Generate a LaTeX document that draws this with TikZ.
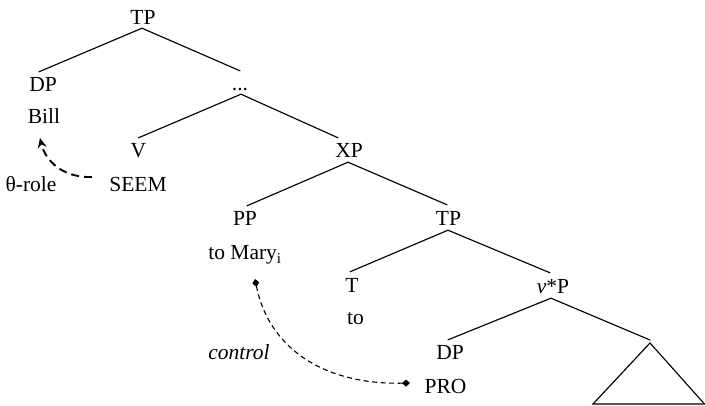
\documentclass[tikz,border=0pt]{standalone}
\usepackage{fontspec}
\setmainfont{Liberation Serif}
\usetikzlibrary{arrows.meta}
\tikzset{
  lbl/.style={anchor=base,inner sep=0pt,text height=14pt,text depth=0pt,font=\fontsize{21.5}{25}\selectfont},
  edge/.style={line width=1.15pt,line cap=round},
  thetaarrow/.style={line width=1.9pt,dash pattern=on 8pt off 5pt,-{Stealth[length=10pt,width=9pt,inset=3.5pt]}},
  ctrlarrow/.style={line width=1.1pt,dash pattern=on 5pt off 3.5pt,{Turned Square[length=8pt,width=7pt]}-{Turned Square[length=8pt,width=7pt]}}
}
\begin{document}
\begin{tikzpicture}[x=1pt,y=-1pt]
\useasboundingbox (0,0) rectangle (705,406);
% nodes
\node[lbl] (tp1) at (143,25) {TP};
\node[lbl] (dp1) at (43,92) {DP};
\node[lbl] (bill) at (44,124) {Bill};
\node[lbl] (dots) at (240,91) {...};
\node[lbl] (v) at (138.5,158) {V};
\node[lbl] (seem) at (138,192) {SEEM};
\node[lbl] (theta) at (31,192) {θ-role};
\node[lbl] (xp) at (349,158) {XP};
\node[lbl] (pp) at (245,226) {PP};
\node[lbl] (mary) at (245,260) {to Mary\textsubscript{i}};
\node[lbl] (tp2) at (448.5,226) {TP};
\node[lbl] (t) at (352,293) {T};
\node[lbl] (to) at (355.5,325) {to};
\node[lbl] (vp) at (553,294) {\textit{v}*P};
\node[lbl] (dp2) at (450,360) {DP};
\node[lbl] (pro) at (445.5,393) {PRO};
\node[lbl] (ctrl) at (239,360) {\textit{control}};
\coordinate (tri) at (650,343);
\coordinate (tril) at (593,404);
\coordinate (trir) at (704.5,404);
% tree edges
\draw[edge] ([xshift=-1pt,yshift=-3pt]tp1.south) -- ([xshift=-4pt,yshift=6pt]dp1.north);
\draw[edge] ([xshift=-1pt,yshift=-3pt]tp1.south) -- ([yshift=6pt]dots.north);
\draw[edge] ([xshift=1pt,yshift=-3pt]dots.south) -- ([yshift=6pt]v.north);
\draw[edge] ([xshift=1pt,yshift=-3pt]dots.south) -- ([xshift=-11pt,yshift=6pt]xp.north);
\draw[edge] ([xshift=-1pt,yshift=-4pt]xp.south) -- ([xshift=2pt,yshift=6pt]pp.north);
\draw[edge] ([xshift=-1pt,yshift=-4pt]xp.south) -- ([xshift=-1.5pt,yshift=7pt]tp2.north);
\draw[edge] ([xshift=-0.5pt,yshift=-4pt]tp2.south) -- ([xshift=-2pt,yshift=7pt]t.north);
\draw[edge] ([xshift=-0.5pt,yshift=-4pt]tp2.south) -- ([xshift=-3pt,yshift=7pt]vp.north);
\draw[edge] ([xshift=-2pt,yshift=-4pt]vp.south) -- ([xshift=-2pt,yshift=6pt]dp2.north);
\draw[edge] ([xshift=-2pt,yshift=-4pt]vp.south) -- ([yshift=3pt]tri);
\draw[edge,line join=miter] (tril) -- (tri) -- (trir) -- cycle;
% dashed arrows
\coordinate (ts) at (92,177);
\coordinate (te) at (40,138);
\draw[thetaarrow] (ts) .. controls (62,178) and (45,160) .. (te);
\coordinate (cs) at (255,279);
\coordinate (ce) at (410,383);
\draw[ctrlarrow] (cs) .. controls (268,345) and (320,385) .. (ce);
\end{tikzpicture}
\end{document}
